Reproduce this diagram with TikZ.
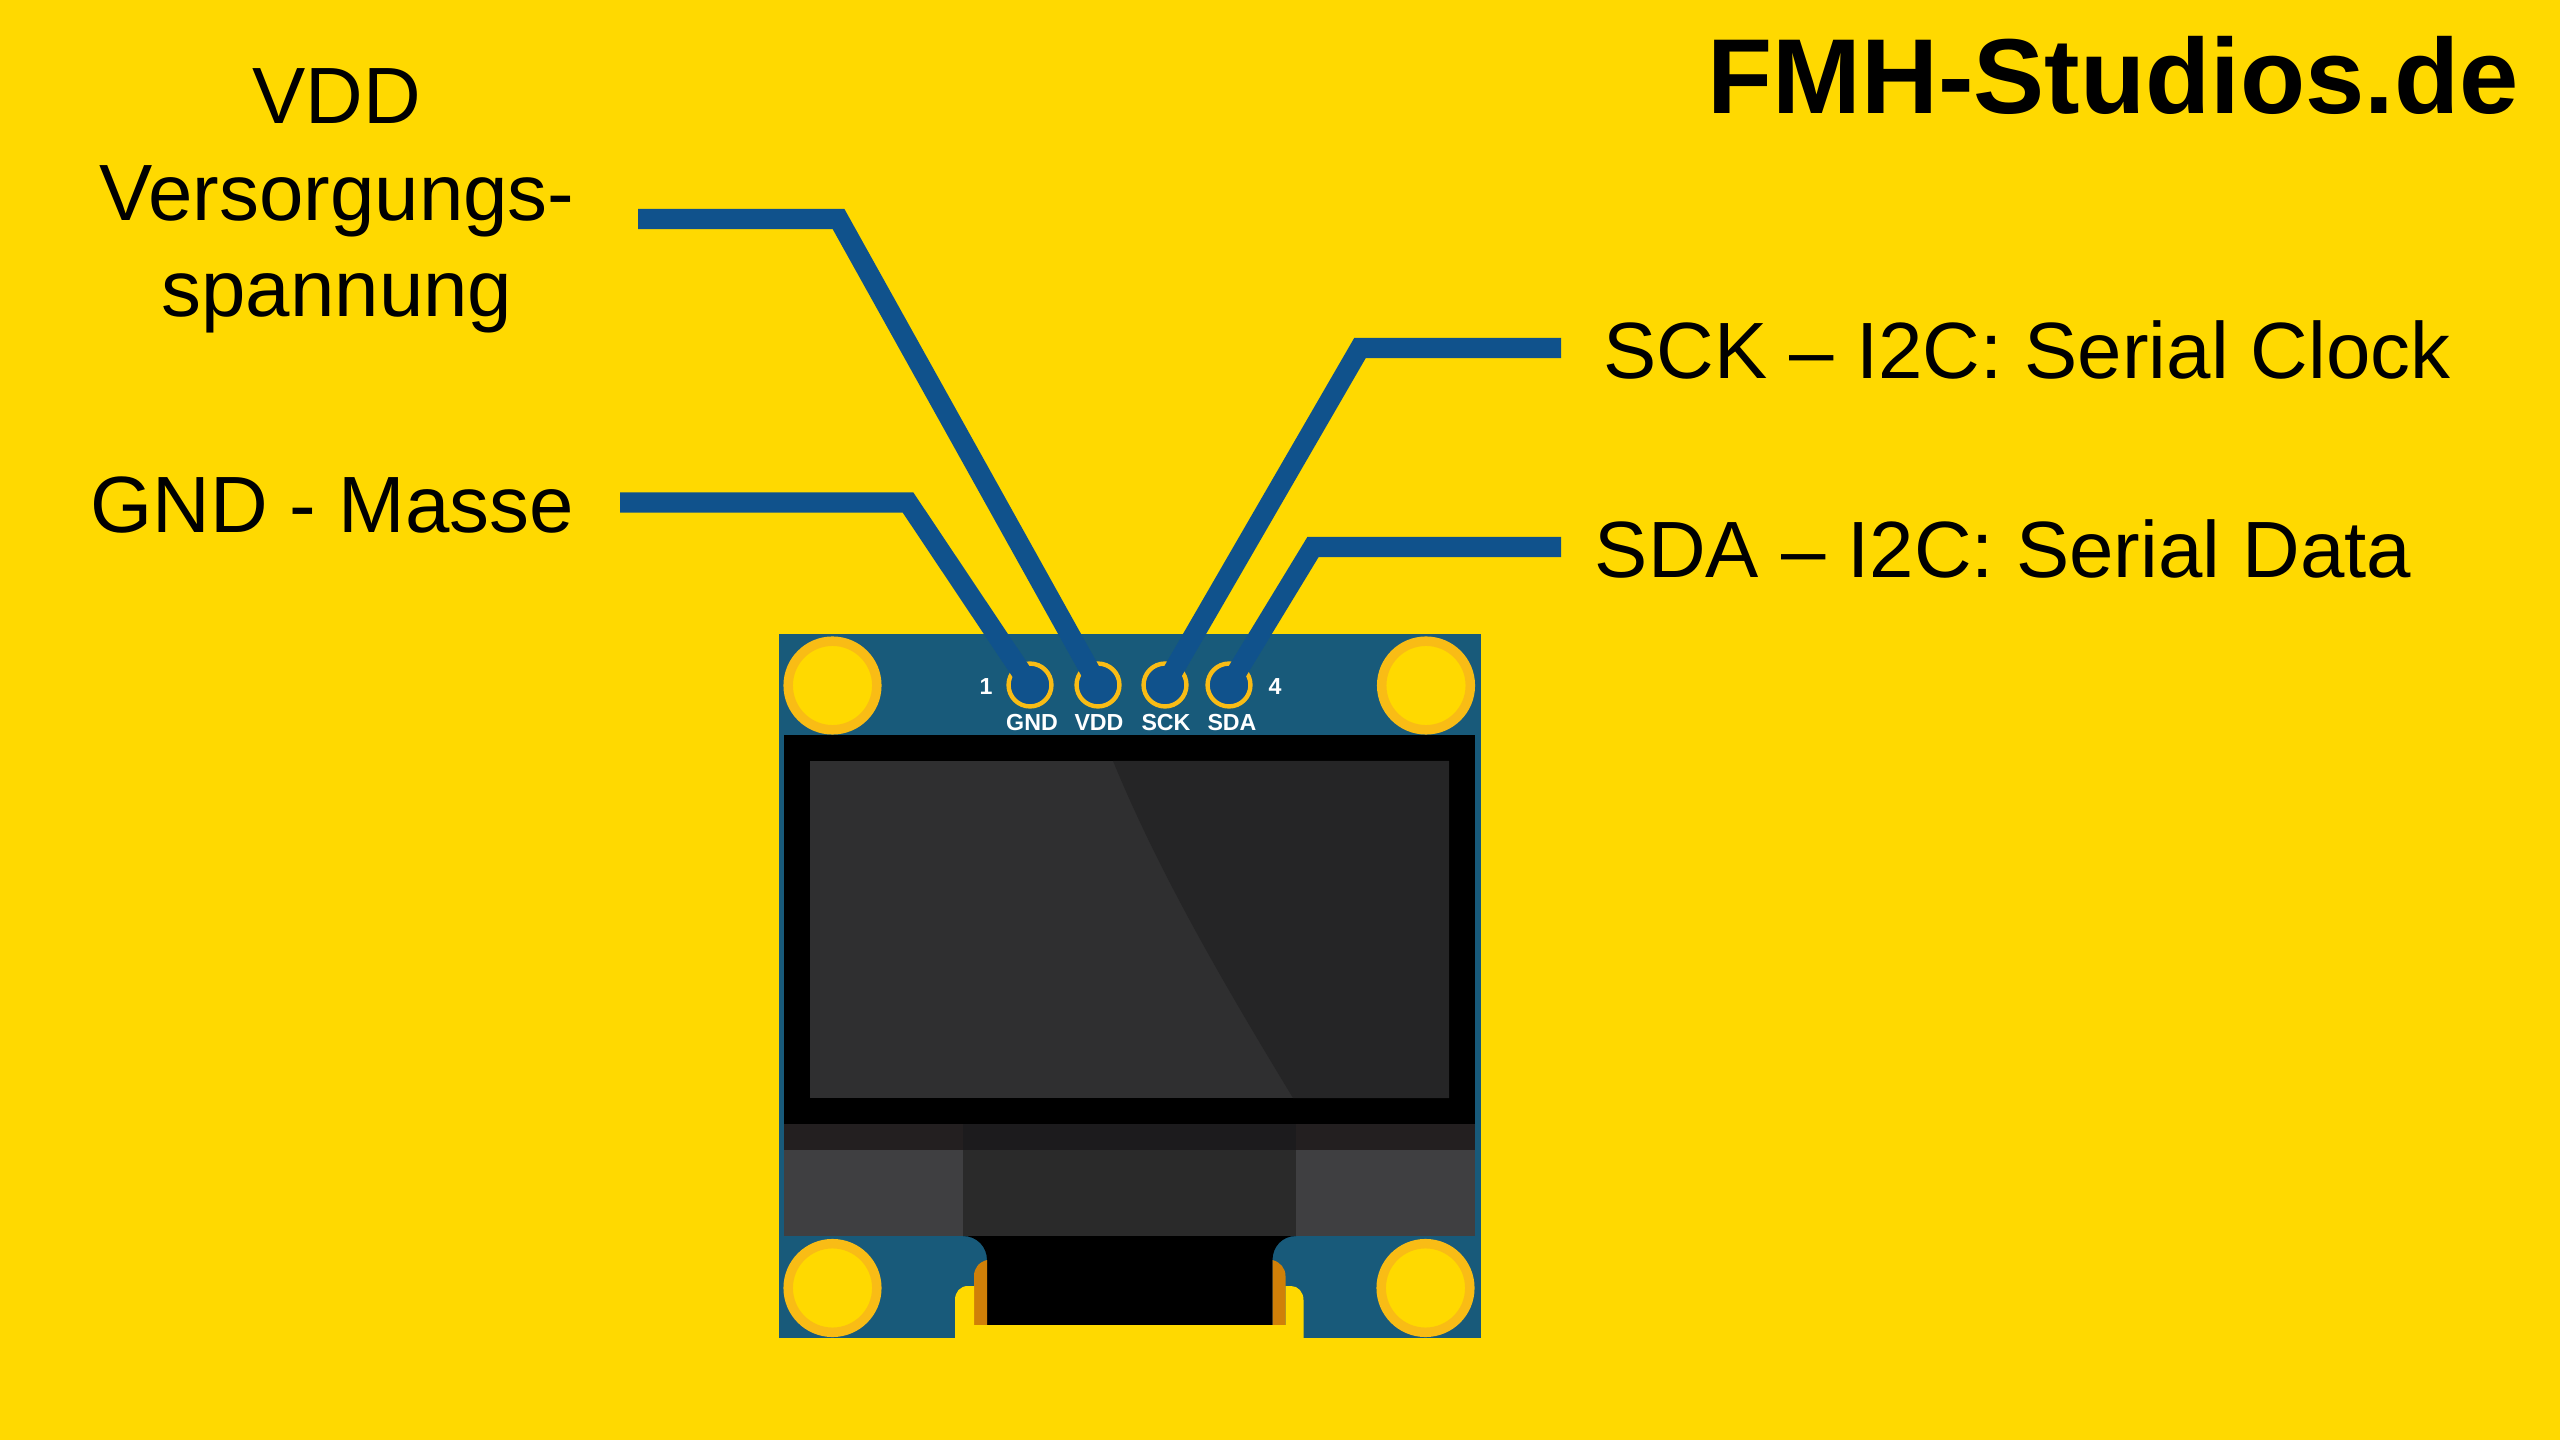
\documentclass[tikz,border=0pt]{standalone}
\usepackage{fontspec}
\setmainfont{Liberation Sans}
\definecolor{backyellow}{HTML}{FFD900}
\definecolor{boardblue}{HTML}{185A7A}
\definecolor{wireblue}{HTML}{10528C}
\definecolor{padring}{HTML}{F9BC15}
\definecolor{panellight}{HTML}{2F2F30}
\definecolor{paneldark}{HTML}{252526}
\definecolor{striplight}{HTML}{231F20}
\definecolor{stripdark}{HTML}{1C1B1D}
\definecolor{glasslight}{HTML}{3F3F41}
\definecolor{glassdark}{HTML}{2A2A2A}
\definecolor{flexorange}{HTML}{D08008}
\tikzset{
  pad/.style={circle, draw=padring, line width=2.7pt, fill=backyellow, minimum size=25.2pt, inner sep=0pt},
  pin/.style={circle, draw=padring, line width=1.25pt, fill=wireblue, minimum size=12.2pt, inner sep=0pt},
  wire/.style={draw=wireblue, line width=5.7pt, miter limit=10},
  pinlabel/.style={text=white, font=\fontsize{6.6}{8}\selectfont\bfseries},
  caption/.style={font=\fontsize{22.7}{27.4}\selectfont, align=center}
}
\begin{document}
\begin{tikzpicture}[x=.01cm, y=-.01cm]
  \useasboundingbox[fill=backyellow] (0, 0) rectangle (2560, 1440);
  % board
  \fill[boardblue] (779, 634) rectangle (1481, 1338);
  \fill[black] (784, 735) rectangle (1475, 1124);
  \fill[panellight] (810, 761) rectangle (1449, 1098);
  \fill[paneldark] (1113, 761) .. controls (1159, 873) and (1225, 986) .. (1293, 1098) -- (1449, 1098) -- (1449, 761) -- cycle;
  \fill[striplight] (784, 1124) rectangle (1475, 1150);
  \fill[stripdark] (963, 1124) rectangle (1296, 1150);
  \fill[glasslight] (784, 1150) rectangle (1475, 1236);
  \fill[glassdark] (963, 1150) rectangle (1296, 1236);
  % flex cable
  \fill[black] (963, 1236) .. controls (977, 1236) and (987, 1247) .. (987, 1260) -- (987, 1325) -- (1272.5, 1325) -- (1272.5, 1260) .. controls (1272.5, 1247) and (1282, 1236) .. (1296, 1236) -- cycle;
  \fill[flexorange] (987, 1260) .. controls (979, 1262) and (974, 1268) .. (974, 1276) -- (974, 1325) -- (987, 1325) -- cycle;
  \fill[flexorange] (1272.5, 1260) .. controls (1280, 1262) and (1285.5, 1268) .. (1285.5, 1276) -- (1285.5, 1325) -- (1272.5, 1325) -- cycle;
  \fill[backyellow] (955, 1338) -- (955, 1300) .. controls (955, 1292) and (960, 1286) .. (968, 1286) -- (974, 1286) -- (974, 1325) -- (1285.5, 1325) -- (1285.5, 1286) -- (1291, 1286) .. controls (1298, 1286) and (1303.5, 1292) .. (1303.5, 1300) -- (1303.5, 1338) -- cycle;
  % pads
  \node[pad] (pad_tl) at (832.5, 685.5) {};
  \node[pad] (pad_tr) at (1426, 685.5) {};
  \node[pad] (pad_bl) at (832.5, 1288) {};
  \node[pad] (pad_br) at (1425.5, 1288) {};
  % pins
  \node[pin] (pin_gnd) at (1030, 685) {};
  \node[pin] (pin_vdd) at (1098, 685) {};
  \node[pin] (pin_sck) at (1165, 685) {};
  \node[pin] (pin_sda) at (1229, 685) {};
  \node[pinlabel] (label_gnd) at (1032, 723) {GND};
  \node[pinlabel] (label_vdd) at (1099, 723) {VDD};
  \node[pinlabel] (label_sck) at (1166, 723) {SCK};
  \node[pinlabel] (label_sda) at (1232, 723) {SDA};
  \node[pinlabel] (label_one) at (986, 687) {1};
  \node[pinlabel] (label_four) at (1275, 687) {4};
  % wires
  \coordinate (gnd_end) at (620, 502.5);
  \coordinate (gnd_bend) at (908, 502.5);
  \coordinate (vdd_end) at (638, 219);
  \coordinate (vdd_bend) at (838.5, 219);
  \coordinate (sck_end) at (1561, 348);
  \coordinate (sck_bend) at (1360, 348);
  \coordinate (sda_end) at (1561, 547);
  \coordinate (sda_bend) at (1313, 547);
  \draw[wire] (gnd_end) -- (gnd_bend) -- (pin_gnd.center);
  \draw[wire] (vdd_end) -- (vdd_bend) -- (pin_vdd.center);
  \draw[wire] (sck_end) -- (sck_bend) -- (pin_sck.center);
  \draw[wire] (sda_end) -- (sda_bend) -- (pin_sda.center);
  % captions
  \node[caption] (vdd_text) at (337, 201) {VDD\\Versorgungs-\\spannung};
  \node[caption] (gnd_text) at (332, 505) {GND - Masse};
  \node[caption] (sck_text) at (2027, 350) {SCK – I2C: Serial Clock};
  \node[caption] (sda_text) at (2003, 549) {SDA – I2C: Serial Data};
  \node[font=\fontsize{30.3}{36}\selectfont\bfseries] (brand) at (2113, 75) {FMH-Studios.de};
\end{tikzpicture}
\end{document}
